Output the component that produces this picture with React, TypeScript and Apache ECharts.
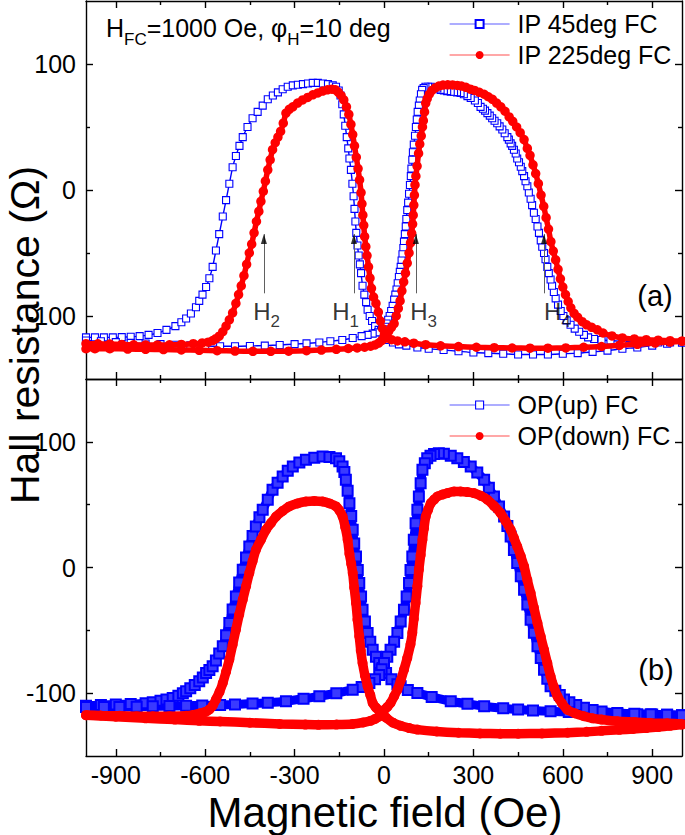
import React, { useEffect, useRef } from 'react';
import * as echarts from 'echarts';

const FONT = "'Liberation Sans', Arial, Helvetica, sans-serif";

// ---- axis ticks ----
const X_MAJOR = [-900, -600, -300, 0, 300, 600, 900];
const X_MINOR = [-750, -450, -150, 150, 450, 750];
const Y_MAJOR = [-100, 0, 100];
const Y_MINOR = [-50, 50];

// ---- legend names ----
const NAME_IP45 = 'IP 45deg FC';
const NAME_IP225 = 'IP 225deg FC';
const NAME_UP = 'OP(up) FC';
const NAME_DOWN = 'OP(down) FC';

// ---- panel (a): IP 45deg FC, sweep -1000 -> +1000 ----
const ip45Asc = [[-1000,-117],[-970,-117],[-940,-117],[-910,-117],[-880,-116.8],[-850,-116.5],[-820,-116],[-790,-115],[-760,-113.5],[-730,-111],[-700,-108],[-680,-105],[-664,-102],[-648,-98],[-631,-93],[-620,-88],[-609,-83],[-597,-77],[-586,-70],[-575,-61],[-564,-48],[-553,-35],[-541,-21],[-530,-8],[-519,5],[-508,18],[-497,27],[-485,35],[-474,42],[-458,50],[-441,57],[-424,62],[-407,67],[-390,72],[-373,75],[-356,77.5],[-340,80],[-323,82],[-306,83],[-289,83.5],[-272,84],[-255,84.5],[-239,85],[-222,85],[-205,84.5],[-188,84],[-172,83],[-161,82],[-152,79],[-146,75],[-140,68],[-135,60],[-130,51],[-125,42],[-120,33],[-116,25],[-111,16],[-106,5],[-102,-5],[-99,-15],[-96,-25],[-93,-34],[-89,-44],[-85,-52],[-81,-59],[-77,-66],[-72,-76],[-66,-83],[-60,-89],[-55,-95],[-48,-100],[-40,-104],[-30,-108],[-18,-111],[-8,-113],[2,-116],[15,-119],[30,-121],[50,-122.5],[75,-123.5],[112,-125],[150,-126],[200,-127],[250,-128],[300,-129],[350,-129.5],[400,-130],[450,-130.5],[500,-130.5],[550,-130.5],[600,-130],[650,-129.5],[700,-128.5],[750,-127.5],[800,-126],[850,-125],[900,-123.5],[950,-122],[1000,-121]];
// ---- panel (a): IP 45deg FC, sweep +1000 -> -1000 ----
const ip45Desc = [[1000,-121],[960,-121],[920,-121],[880,-120.8],[840,-120.5],[800,-120.1],[760,-119.5],[730,-119],[705,-118.3],[685,-117],[671,-115],[655,-112.5],[640,-110],[626,-107],[613,-103.5],[602,-100],[593,-96],[584,-91],[576,-86],[570,-81],[564,-76],[559,-71],[553,-66],[548,-61],[542,-55],[537,-50],[531,-45],[526,-40],[520,-34],[515,-29],[509,-23],[503,-18],[497,-12],[492,-7],[486,-2],[481,3],[475,7],[470,11],[464,15],[459,18.5],[453,22],[447,25],[442,29],[436,32],[430,35],[425,37],[419,40],[414,42],[405,45],[397,48],[388,50.5],[380,53],[371,55],[363,57],[355,59],[347,61],[339,63],[332,64.5],[324,66],[315,69],[305,71],[291,73],[280,74.5],[268,76],[257,77],[245,77.5],[235,77.8],[224,78],[212,78.5],[201,79],[190,79.5],[179,80.5],[168,81.3],[157,82],[148,82],[139,82],[133,81],[128,79.5],[124,76],[120,71],[117,67],[113,62],[110,56],[107,50],[104,43],[100,36],[97,30],[95,24],[92,17],[90,11],[87,4],[84,-3],[81,-10],[78,-16],[75,-23],[73,-29],[70,-35],[67,-41],[65,-46],[62,-51],[59,-56],[56,-61],[53,-65],[50,-69],[46,-74],[42,-79],[38,-83],[34,-87],[29,-92],[24,-96],[19,-100],[14,-103],[9,-106],[4,-108.5],[-2,-110.5],[-10,-112],[-20,-113],[-38,-114],[-55,-115],[-75,-116],[-105,-117.5],[-140,-119],[-180,-120],[-217,-121],[-260,-121.7],[-300,-122.3],[-350,-123],[-400,-123.5],[-450,-123.8],[-500,-124],[-550,-124],[-600,-123.8],[-650,-123.3],[-700,-122.8],[-750,-122.3],[-800,-121.8],[-850,-121.3],[-900,-120.7],[-950,-120],[-1000,-119.5]];

// ---- panel (a): IP 225deg FC ----
const ip225Asc = [[-1000,-122],[-960,-122.1],[-920,-122.3],[-880,-122.6],[-840,-122.9],[-800,-123],[-760,-123],[-720,-122.9],[-680,-122.6],[-640,-122],[-610,-121.4],[-590,-120.8],[-575,-119.5],[-564,-118],[-553,-116],[-541,-112.5],[-530,-108],[-519,-103],[-508,-97.5],[-497,-90],[-488,-83],[-479,-76],[-470,-68],[-461,-59],[-452,-50],[-444,-43],[-436,-34],[-428,-25],[-420,-17],[-413,-9],[-405,-1],[-398,7],[-390,16],[-382,24],[-374,32],[-365,37.5],[-356,42],[-347,46.5],[-338,53],[-329,61],[-318,64],[-306,66],[-290,69],[-273,71.5],[-256,73.5],[-239,75.5],[-222,77],[-206,78.5],[-190,79.5],[-175,80],[-163,79.5],[-153,77.5],[-144,75],[-135,71.5],[-126,66],[-118,60],[-111,52],[-105,44],[-99,35],[-93,26],[-87,17],[-82,8],[-77,-2],[-74,-11],[-71,-20],[-68,-28],[-65,-37],[-61,-45],[-57,-52],[-52,-61],[-47,-70],[-42,-78],[-35,-85],[-27,-90],[-19,-97],[-12,-104],[-5,-110],[1,-115],[10,-117.5],[25,-118.8],[45,-119.8],[70,-120.5],[100,-121.6],[140,-122.8],[190,-123.7],[250,-124.3],[310,-124.8],[370,-125.1],[430,-125.4],[490,-125.5],[550,-125.5],[610,-125.3],[670,-124.8],[730,-124.2],[790,-123.3],[850,-122.5],[910,-121.5],[960,-120.7],[1000,-120]];
const ip225Desc = [[1000,-120],[960,-119.6],[920,-119.2],[880,-118.8],[840,-118.2],[800,-117.4],[765,-115.8],[735,-113.5],[716,-111],[697,-109],[680,-107],[665,-104.5],[650,-101],[638,-98],[627,-93.5],[618,-88.5],[609,-83],[600,-77],[592,-70.5],[584,-63],[576,-55.5],[568,-48.5],[560,-41],[552,-31],[544,-22],[536,-13],[527,-4],[518,5],[509,13],[500,20],[490,27.5],[481,33],[470,40],[457,45.5],[445,50],[432,54.5],[420,58],[406,62.5],[392,66],[378,69],[364,72],[350,74],[336,76],[320,77.5],[304,79],[290,80],[275,81.5],[260,82.5],[246,83],[230,83.4],[214,83.5],[198,83.3],[184,82.5],[172,81],[161,79],[152,76],[145,72.5],[140,69],[136,62],[132,55],[129,50],[125,43],[120,36.5],[116,29],[111,19],[107,11],[104,4],[102,-4],[100,-12],[98,-20],[96,-27],[93,-34.5],[89,-42],[84,-50],[78,-58],[72,-66],[66,-73],[60,-80],[54,-88],[48,-94],[41,-100],[34,-106],[25,-109],[16,-112],[8,-115],[0,-117.5],[-8,-119.5],[-18,-121.5],[-30,-123],[-45,-124],[-65,-124.8],[-90,-125.3],[-120,-125.8],[-160,-126.4],[-210,-127],[-260,-127.5],[-320,-127.9],[-380,-128],[-440,-128],[-500,-127.8],[-560,-127.5],[-620,-127.2],[-680,-126.9],[-740,-126.6],[-800,-126.4],[-860,-126.2],[-920,-126],[-970,-126],[-1000,-126]];

// ---- panel (b): OP(up) FC ----
const opUpAsc = [[-1000,-110],[-950,-109.5],[-900,-109],[-850,-108.7],[-800,-108],[-776,-107.2],[-750,-106],[-730,-105],[-709,-103.8],[-690,-102],[-675,-100],[-664,-98.5],[-650,-96],[-635,-93.5],[-620,-90.6],[-608,-87.5],[-597,-84],[-586,-81.5],[-575,-78.6],[-564,-74],[-553,-68.5],[-541,-62.7],[-530,-54],[-519,-44.2],[-508,-33.5],[-497,-23],[-486,-12],[-474,-1.8],[-463,8],[-452,16.8],[-441,25],[-430,32.7],[-418,40],[-407,45.9],[-390,54],[-374,61.8],[-357,67.5],[-340,72.4],[-323,77],[-306,80.4],[-284,83.5],[-262,85.7],[-234,87.3],[-206,88.3],[-183,88],[-161,87],[-150,84.5],[-139,80.4],[-133,76],[-128,69.8],[-122,61],[-116,51.2],[-110,41],[-105,30],[-100,19],[-94,8.8],[-88,-2],[-83,-12.4],[-77,-23],[-72,-33.6],[-64,-43],[-55,-52.1],[-46,-59],[-38,-65.4],[-27,-71],[-16,-76],[-5,-80],[7,-84],[25,-89],[45,-93],[56,-94.5],[80,-97.5],[112,-99.8],[160,-103],[224,-106.4],[280,-108.5],[336,-110.4],[400,-112],[450,-113],[500,-113.8],[559,-114.4],[620,-115],[670,-115.5],[730,-116],[783,-116.3],[850,-116.7],[900,-117],[950,-117.2],[1000,-117.5]];
const opUpDesc = [[1000,-117.5],[950,-117.2],[895,-116.8],[840,-116.3],[783,-115.7],[730,-114.5],[700,-113.3],[671,-111.7],[645,-109.5],[622,-107.3],[604,-105],[590,-101.5],[575,-98],[559,-94.5],[548,-88.5],[537,-81.3],[526,-72],[515,-62.7],[503,-52],[492,-41.5],[481,-29.5],[470,-17.7],[459,-7],[447,3.5],[436,14],[425,24.7],[414,33],[403,40.6],[386,48.5],[369,56.5],[352,63.5],[336,69.8],[313,75.5],[291,80.4],[268,84],[246,87],[224,89],[201,90.5],[184,91],[168,90.4],[156,89],[145,87],[137,83],[129,77.7],[123,67],[117,56.5],[112,46],[106,35.3],[100,22],[95,8.8],[89,-2],[84,-12.4],[76,-23],[67,-33.6],[56,-43],[45,-52.1],[34,-59],[22,-65.4],[11,-71],[0,-76],[-8,-81],[-16,-85.5],[-30,-89],[-49,-92],[-75,-95],[-105,-97.2],[-160,-100],[-217,-102.5],[-270,-104.5],[-329,-106.4],[-390,-107.6],[-441,-108.3],[-500,-109],[-550,-109.4],[-610,-109.8],[-664,-110],[-720,-110.3],[-776,-110.5],[-830,-110.8],[-888,-111],[-940,-111],[-1000,-111]];

// ---- panel (b): OP(down) FC ----
const opDownAsc = [[-1000,-117.5],[-950,-117.8],[-888,-118],[-830,-118.3],[-776,-118.4],[-720,-118.3],[-664,-118],[-640,-117.3],[-620,-116.2],[-600,-115],[-586,-113],[-575,-110],[-564,-105],[-552,-99],[-541,-92],[-530,-83],[-519,-73.3],[-508,-61.5],[-497,-49.5],[-486,-37.5],[-474,-25.6],[-463,-15],[-452,-4.4],[-441,5],[-430,14],[-413,22],[-396,30],[-379,35.5],[-362,40.6],[-340,45],[-318,48.6],[-290,51],[-262,52.5],[-234,53],[-206,52.5],[-183,51],[-161,48.6],[-150,45.5],[-139,40.6],[-130,32],[-122,22],[-116,11],[-110,3],[-105,-4.4],[-100,-16],[-94,-28.3],[-89,-41.5],[-83,-54.8],[-78,-66],[-72,-76],[-64,-86],[-55,-94.5],[-46,-101.5],[-38,-107.8],[-27,-111.5],[-16,-114],[-5,-116.5],[7,-119.5],[30,-123.5],[56,-126],[85,-127.8],[112,-129],[177,-130.5],[250,-131.5],[322,-132],[390,-132.2],[450,-132.2],[530,-132],[616,-131.5],[680,-130.8],[730,-130],[790,-129.2],[836,-128.5],[880,-127.8],[920,-127],[960,-126],[1000,-125]];
const opDownDesc = [[1000,-124.5],[950,-124],[895,-123.7],[840,-123],[783,-122.4],[730,-121],[700,-120],[671,-118.4],[640,-116],[615,-113.1],[597,-108],[582,-102.5],[570,-95],[559,-86.6],[548,-76],[537,-65.4],[526,-55],[515,-44.2],[503,-32],[492,-20.3],[481,-10],[470,0.9],[459,9],[447,16.8],[436,23.5],[425,30],[408,37],[391,43.3],[369,49],[347,53.9],[325,57],[302,59.2],[280,60],[257,60.5],[235,60.5],[213,59.2],[196,58],[179,56.5],[168,54],[157,51.2],[148,46],[140,40.6],[134,31],[129,22],[123,10],[117,-1.8],[112,-15],[106,-28.3],[100,-41],[95,-52],[89,-61],[78,-72],[67,-81.3],[56,-90],[45,-97.2],[34,-102.5],[22,-107.8],[11,-111],[0,-113.5],[-8,-116],[-16,-118.5],[-30,-120.5],[-45,-122],[-70,-123.3],[-105,-124.5],[-160,-125],[-220,-125.2],[-264,-125],[-350,-124.5],[-450,-123.5],[-550,-122.5],[-620,-122],[-702,-121],[-800,-120],[-900,-118.8],[-1000,-117.5]];

// ---- H1..H4 arrows (panel a) ----
const ARROW_X = [-403, -101, 107, 537];
const ARROW_TIP = -35;
const ARROW_BASE = -82;
const H_LABEL_X = [-394, -129, 133, 582];
const H_LABEL_SUB = ['2', '1', '3', '4'];
const H_LABEL_Y = -99;

const axisLine = { color: '#000', width: 1.4 };

function makeX(gridIndex: number, labels: boolean) {
  const base = { type: 'value', gridIndex, min: -1000, max: 1000, splitLine: { show: false } };
  return [
    {
      ...base, position: 'bottom',
      axisLine: { show: true, onZero: false, lineStyle: axisLine },
      axisTick: { show: true, inside: true, length: 7, customValues: X_MAJOR, lineStyle: axisLine },
      axisLabel: labels
        ? { show: true, customValues: X_MAJOR, fontSize: 25, fontFamily: FONT, color: '#000', margin: 6 }
        : { show: false },
    },
    {
      ...base, position: 'bottom',
      axisLine: { show: false, onZero: false },
      axisTick: { show: true, inside: true, length: 4, customValues: X_MINOR, lineStyle: axisLine },
      axisLabel: { show: false },
    },
    {
      ...base, position: 'top',
      axisLine: { show: true, onZero: false, lineStyle: axisLine },
      axisTick: { show: true, inside: true, length: 7, customValues: X_MAJOR, lineStyle: axisLine },
      axisLabel: { show: false },
    },
    {
      ...base, position: 'top',
      axisLine: { show: false, onZero: false },
      axisTick: { show: true, inside: true, length: 4, customValues: X_MINOR, lineStyle: axisLine },
      axisLabel: { show: false },
    },
  ];
}

function makeY(gridIndex: number) {
  const base = { type: 'value', gridIndex, min: -150, max: 150, splitLine: { show: false } };
  return [
    {
      ...base, position: 'left',
      axisLine: { show: true, onZero: false, lineStyle: axisLine },
      axisTick: { show: true, inside: true, length: 7, customValues: Y_MAJOR, lineStyle: axisLine },
      axisLabel: { show: true, customValues: Y_MAJOR, fontSize: 25, fontFamily: FONT, color: '#000', margin: 10 },
    },
    {
      ...base, position: 'left',
      axisLine: { show: false, onZero: false },
      axisTick: { show: true, inside: true, length: 4, customValues: Y_MINOR, lineStyle: axisLine },
      axisLabel: { show: false },
    },
    {
      ...base, position: 'right',
      axisLine: { show: true, onZero: false, lineStyle: axisLine },
      axisTick: { show: true, inside: true, length: 7, customValues: Y_MAJOR, lineStyle: axisLine },
      axisLabel: { show: false },
    },
    {
      ...base, position: 'right',
      axisLine: { show: false, onZero: false },
      axisTick: { show: true, inside: true, length: 4, customValues: Y_MINOR, lineStyle: axisLine },
      axisLabel: { show: false },
    },
  ];
}

function lineSeries(name: string, data: number[][], axis: number, look: any) {
  return {
    type: 'line', name, data, xAxisIndex: axis, yAxisIndex: axis,
    showAllSymbol: true, smooth: 0.2, silent: true, clip: true,
    emphasis: { disabled: true },
    ...look,
  };
}

const blueTop = {
  symbol: 'rect', symbolSize: 7,
  lineStyle: { color: '#0000ff', width: 1.4 },
  itemStyle: { color: '#ffffff', borderColor: '#0000ff', borderWidth: 1.1 },
  z: 2,
};
const redTop = {
  symbol: 'circle', symbolSize: 9.5,
  lineStyle: { color: '#ff0000', width: 5.5 },
  itemStyle: { color: '#ff0000' },
  z: 3,
};
const blueBot = {
  symbol: 'rect', symbolSize: 10,
  lineStyle: { color: '#0000ff', width: 9 },
  itemStyle: { color: '#3a3aff', borderColor: '#0000ff', borderWidth: 2 },
  z: 2,
};
const redBot = {
  symbol: 'circle', symbolSize: 10,
  lineStyle: { color: '#ff0000', width: 9.5 },
  itemStyle: { color: '#ff0000' },
  z: 3,
};

function buildOption() {
  const legendCommon = {
    orient: 'vertical', left: 449, padding: 0, itemGap: 6, itemWidth: 60, itemHeight: 10,
    selectedMode: false,
    textStyle: { fontSize: 25, fontFamily: FONT, color: '#000', padding: [0, 0, 0, 3] },
  };
  return {
    animation: false,
    backgroundColor: '#ffffff',
    grid: [
      { left: 86, right: 3, top: 1, height: 378, outerBoundsMode: 'none' },
      { left: 86, right: 3, top: 379, height: 377, outerBoundsMode: 'none' },
    ],
    xAxis: [...makeX(0, false), ...makeX(1, true)],
    yAxis: [...makeY(0), ...makeY(1)],
    legend: [
      {
        ...legendCommon, top: 11.5,
        data: [
          { name: NAME_IP45, lineStyle: { color: '#5c5cff', width: 1.2 } },
          { name: NAME_IP225, lineStyle: { color: '#ff5050', width: 1.2 } },
        ],
      },
      {
        ...legendCommon, top: 392.5,
        data: [
          { name: NAME_UP, itemStyle: { color: '#ffffff', borderColor: '#0000ff', borderWidth: 1.1 }, lineStyle: { color: '#5c5cff', width: 1.2 } },
          { name: NAME_DOWN, lineStyle: { color: '#ff5050', width: 1.2 } },
        ],
      },
    ],
    series: [
      lineSeries(NAME_IP45, ip45Asc, 0, blueTop),
      lineSeries(NAME_IP45, ip45Desc, 0, blueTop),
      lineSeries(NAME_IP225, ip225Asc, 0, redTop),
      lineSeries(NAME_IP225, ip225Desc, 0, redTop),
      lineSeries(NAME_UP, opUpAsc, 4, blueBot),
      lineSeries(NAME_UP, opUpDesc, 4, blueBot),
      lineSeries(NAME_DOWN, opDownAsc, 4, redBot),
      lineSeries(NAME_DOWN, opDownDesc, 4, redBot),
      {
        type: 'lines', coordinateSystem: 'cartesian2d', xAxisIndex: 0, yAxisIndex: 0,
        data: ARROW_X.map((x) => ({ coords: [[x, ARROW_BASE], [x, ARROW_TIP]] })),
        lineStyle: { color: '#606060', width: 1, opacity: 1 },
        symbol: ['none', 'none'], silent: true, z: 8,
      },
      {
        type: 'scatter', xAxisIndex: 0, yAxisIndex: 0,
        data: ARROW_X.map((x) => [x, ARROW_TIP]),
        symbol: 'triangle', symbolSize: [6, 10], symbolOffset: [0, 5],
        itemStyle: { color: '#000' }, silent: true, z: 9,
      },
      {
        type: 'scatter', xAxisIndex: 0, yAxisIndex: 0,
        data: H_LABEL_X.map((x, i) => ({ value: [x, H_LABEL_Y], label: { formatter: `{h|H}{s|${H_LABEL_SUB[i]}}` } })),
        symbolSize: 1, itemStyle: { color: 'rgba(0,0,0,0)' }, silent: true, z: 10,
        label: {
          show: true, position: 'inside',
          rich: {
            h: { fontSize: 24, fontFamily: FONT, color: '#000', padding: [0, 0, 6, 0], verticalAlign: 'bottom' },
            s: { fontSize: 17, fontFamily: FONT, color: '#000', verticalAlign: 'bottom' },
          },
        },
      },
    ],
    graphic: [
      {
        type: 'text', x: 25, y: 335, rotation: Math.PI / 2, silent: true,
        style: { text: 'Hall resistance (Ω)', fontSize: 41, fontFamily: FONT, fill: '#000', align: 'center', verticalAlign: 'middle' },
      },
      {
        type: 'text', x: 385, y: 812, silent: true,
        style: { text: 'Magnetic field (Oe)', fontSize: 42, fontFamily: FONT, fill: '#000', align: 'center', verticalAlign: 'middle' },
      },
      {
        type: 'text', x: 655, y: 296, silent: true,
        style: { text: '(a)', fontSize: 29, fontFamily: FONT, fill: '#000', align: 'center', verticalAlign: 'middle' },
      },
      {
        type: 'text', x: 656, y: 670, silent: true,
        style: { text: '(b)', fontSize: 29, fontFamily: FONT, fill: '#000', align: 'center', verticalAlign: 'middle' },
      },
      {
        type: 'text', x: 106, y: 31.5, silent: true,
        style: {
          text: '{n|H}{s|FC}{n|=1000 Oe, φ}{s|H}{n|=10 deg}',
          align: 'left', verticalAlign: 'middle',
          rich: {
            n: { fontSize: 25, fontFamily: FONT, fill: '#000', padding: [0, 0, 7, 0], verticalAlign: 'bottom' },
            s: { fontSize: 17, fontFamily: FONT, fill: '#000', verticalAlign: 'bottom' },
          },
        },
      },
    ],
  };
}

export default function App() {
  const ref = useRef<HTMLDivElement>(null);
  useEffect(() => {
    if (!ref.current) return;
    const chart = echarts.init(ref.current, null, { renderer: 'svg' });
    chart.setOption(buildOption() as any);
    return () => chart.dispose();
  }, []);
  return (
    <div
      ref={ref}
      style={{ position: 'fixed', left: 0, top: 0, width: 685, height: 835, background: '#fff' }}
    />
  );
}
